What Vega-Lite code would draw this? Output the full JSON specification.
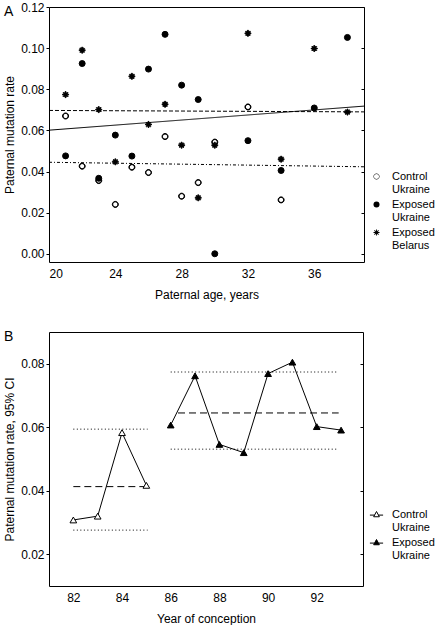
{
  "$schema": "https://vega.github.io/schema/vega-lite/v6.json",
  "background": "white",
  "padding": {"left": 3, "top": 0, "right": 0, "bottom": 0},
  "spacing": 28,
  "resolve": {"scale": {"strokeDash": "independent", "fill": "independent", "shape": "independent"}, "legend": {"fill": "independent", "shape": "independent", "strokeDash": "independent"}},
  "config": {
    "view": {"stroke": "black", "strokeWidth": 1},
    "font": "Liberation Sans",
    "axis": {"labelFont": "Liberation Sans", "labelFontSize": 12, "labelColor": "black", "titleFont": "Liberation Sans", "titleFontSize": 12, "titleFontWeight": "normal", "titleColor": "black", "domain": false, "grid": false, "tickColor": "black", "tickWidth": 1, "labelOverlap": false},
    "legend": {"labelFont": "Liberation Sans", "labelFontSize": 11, "labelColor": "black", "padding": 0, "symbolStrokeColor": "black", "symbolStrokeWidth": 1, "labelLimit": 200, "rowPadding": 3},
    "title": {"font": "Liberation Sans", "fontSize": 14, "fontWeight": "normal", "color": "black"}
  },
  "datasets": {
    "pointsA": [
      {"group": "Control Ukraine", "age": 21, "rate": 0.067},
      {"group": "Control Ukraine", "age": 22, "rate": 0.0426},
      {"group": "Control Ukraine", "age": 23, "rate": 0.0356},
      {"group": "Control Ukraine", "age": 24, "rate": 0.024},
      {"group": "Control Ukraine", "age": 25, "rate": 0.0421},
      {"group": "Control Ukraine", "age": 26, "rate": 0.0395},
      {"group": "Control Ukraine", "age": 27, "rate": 0.057},
      {"group": "Control Ukraine", "age": 28, "rate": 0.028},
      {"group": "Control Ukraine", "age": 29, "rate": 0.0346},
      {"group": "Control Ukraine", "age": 30, "rate": 0.0543},
      {"group": "Control Ukraine", "age": 32, "rate": 0.0714},
      {"group": "Control Ukraine", "age": 34, "rate": 0.0262},
      {"group": "Exposed Ukraine", "age": 21, "rate": 0.0476},
      {"group": "Exposed Ukraine", "age": 22, "rate": 0.0925},
      {"group": "Exposed Ukraine", "age": 23, "rate": 0.0367},
      {"group": "Exposed Ukraine", "age": 24, "rate": 0.0577},
      {"group": "Exposed Ukraine", "age": 25, "rate": 0.0475},
      {"group": "Exposed Ukraine", "age": 26, "rate": 0.0898},
      {"group": "Exposed Ukraine", "age": 27, "rate": 0.1067},
      {"group": "Exposed Ukraine", "age": 28, "rate": 0.082},
      {"group": "Exposed Ukraine", "age": 29, "rate": 0.075},
      {"group": "Exposed Ukraine", "age": 30, "rate": 0.0},
      {"group": "Exposed Ukraine", "age": 32, "rate": 0.055},
      {"group": "Exposed Ukraine", "age": 34, "rate": 0.0405},
      {"group": "Exposed Ukraine", "age": 36, "rate": 0.0709},
      {"group": "Exposed Ukraine", "age": 38, "rate": 0.1052},
      {"group": "Exposed Belarus", "age": 21, "rate": 0.0774},
      {"group": "Exposed Belarus", "age": 22, "rate": 0.099},
      {"group": "Exposed Belarus", "age": 23, "rate": 0.0701},
      {"group": "Exposed Belarus", "age": 24, "rate": 0.0447},
      {"group": "Exposed Belarus", "age": 25, "rate": 0.0863},
      {"group": "Exposed Belarus", "age": 26, "rate": 0.0629},
      {"group": "Exposed Belarus", "age": 27, "rate": 0.0727},
      {"group": "Exposed Belarus", "age": 28, "rate": 0.0528},
      {"group": "Exposed Belarus", "age": 29, "rate": 0.0272},
      {"group": "Exposed Belarus", "age": 30, "rate": 0.0528},
      {"group": "Exposed Belarus", "age": 32, "rate": 0.1072},
      {"group": "Exposed Belarus", "age": 34, "rate": 0.046},
      {"group": "Exposed Belarus", "age": 36, "rate": 0.0998},
      {"group": "Exposed Belarus", "age": 38, "rate": 0.0689}
    ],
    "fitsA": [
      {"group": "Control Ukraine", "age": 20, "rate": 0.0445},
      {"group": "Control Ukraine", "age": 39, "rate": 0.0423},
      {"group": "Exposed Ukraine", "age": 20, "rate": 0.0601},
      {"group": "Exposed Ukraine", "age": 39, "rate": 0.0718},
      {"group": "Exposed Belarus", "age": 20, "rate": 0.0697},
      {"group": "Exposed Belarus", "age": 39, "rate": 0.069}
    ],
    "pointsB": [
      {"group": "Control Ukraine", "year": 82, "rate": 0.0308},
      {"group": "Control Ukraine", "year": 83, "rate": 0.032},
      {"group": "Control Ukraine", "year": 84, "rate": 0.0583},
      {"group": "Control Ukraine", "year": 85, "rate": 0.0417},
      {"group": "Exposed Ukraine", "year": 86, "rate": 0.0607},
      {"group": "Exposed Ukraine", "year": 87, "rate": 0.0762},
      {"group": "Exposed Ukraine", "year": 88, "rate": 0.0546},
      {"group": "Exposed Ukraine", "year": 89, "rate": 0.052},
      {"group": "Exposed Ukraine", "year": 90, "rate": 0.0769},
      {"group": "Exposed Ukraine", "year": 91, "rate": 0.0805},
      {"group": "Exposed Ukraine", "year": 92, "rate": 0.0602},
      {"group": "Exposed Ukraine", "year": 93, "rate": 0.0591}
    ],
    "ciB": [
      {"group": "Control Ukraine", "stat": "upper 95% CI", "start": 82, "end": 85.05, "rate": 0.0594},
      {"group": "Control Ukraine", "stat": "mean", "start": 82, "end": 85, "rate": 0.0413},
      {"group": "Control Ukraine", "stat": "lower 95% CI", "start": 82, "end": 85.05, "rate": 0.0276},
      {"group": "Exposed Ukraine", "stat": "upper 95% CI", "start": 86, "end": 92.85, "rate": 0.0774},
      {"group": "Exposed Ukraine", "stat": "mean", "start": 86.3, "end": 92.9, "rate": 0.0645},
      {"group": "Exposed Ukraine", "stat": "lower 95% CI", "start": 86, "end": 92.85, "rate": 0.0531}
    ]
  },
  "vconcat": [
    {
      "width": 315,
      "height": 255,
      "title": {"text": "A", "anchor": "start", "frame": "group", "orient": "top", "offset": -18, "dx": -45},
      "layer": [
        {
          "data": {"name": "fitsA"},
          "mark": {"type": "line", "stroke": "black", "strokeWidth": 1},
          "encoding": {
            "x": {"field": "age", "type": "quantitative", "scale": {"domain": [20, 39], "nice": false, "zero": false},
                  "axis": {"values": [20, 22, 24, 26, 28, 30, 32, 34, 36, 38], "title": "Paternal age, years", "ticks": false, "labelPadding": 6, "titlePadding": 10}},
            "y": {"field": "rate", "type": "quantitative", "scale": {"domain": [-0.004, 0.12], "nice": false, "zero": false},
                  "axis": {"orient": "right", "labels": false, "title": null, "values": [0, 0.02, 0.04, 0.06, 0.08, 0.1, 0.12], "tickSize": -3}},
            "detail": {"field": "group", "type": "nominal"},
            "strokeDash": {"field": "group", "type": "nominal", "legend": null,
                           "scale": {"domain": ["Exposed Ukraine", "Control Ukraine", "Exposed Belarus"], "range": [[1, 0], [3, 2, 1, 2], [4, 2]]}}
          }
        },
        {
          "data": {"name": "pointsA"},
          "mark": {"type": "point", "filled": true, "fill": "black", "stroke": "black", "strokeWidth": 1, "size": 36, "opacity": 1},
          "encoding": {
            "x": {"field": "age", "type": "quantitative"},
            "y": {"field": "rate", "type": "quantitative",
                  "axis": {"values": [0, 0.02, 0.04, 0.06, 0.08, 0.1, 0.12], "format": ".2f", "title": "Paternal mutation rate", "tickSize": 3, "labelPadding": 2, "titlePadding": 4}},
            "shape": {"field": "group", "type": "nominal",
                      "scale": {"domain": ["Control Ukraine", "Exposed Ukraine", "Exposed Belarus"],
                                "range": ["M1,0A1,1,0,1,1,-1,0A1,1,0,1,1,1,0ZM0.85,0A0.85,0.85,0,1,0,-0.85,0A0.85,0.85,0,1,0,0.85,0Z", "circle", "M-1,-0.15H1V0.15H-1ZM-0.15,-1H0.15V1H-0.15ZM-0.594,-0.806L0.806,0.594L0.594,0.806L-0.806,-0.594ZM-0.806,0.594L0.594,-0.806L0.806,-0.594L-0.594,0.806Z"]},
                      "legend": {"title": null, "orient": "none", "legendX": 322, "legendY": 164, "labelOffset": 10, "symbolSize": 36,
                                 "symbolStrokeColor": "black", "symbolStrokeWidth": 1, "symbolFillColor": "black",
                                 "labelExpr": "split(datum.label, ' ')",
                                 "encode": {"labels": {"dy": {"value": 10}, "lineHeight": {"value": 12}}}}}
          }
        }
      ],
      "resolve": {"axis": {"y": "independent"}}
    },
    {
      "width": 314,
      "height": 254,
      "title": {"text": "B", "anchor": "start", "frame": "group", "orient": "top", "offset": -11.5, "dx": -45},
      "layer": [
        {
          "data": {"name": "ciB"},
          "mark": {"type": "rule", "stroke": "black", "strokeWidth": 1},
          "encoding": {
            "x": {"field": "start", "type": "quantitative", "scale": {"domain": [81, 93.9], "nice": false, "zero": false},
                  "axis": {"values": [82, 83, 84, 85, 86, 87, 88, 89, 90, 91, 92, 93], "title": "Year of conception", "ticks": false, "labelPadding": 6, "titlePadding": 10}},
            "x2": {"field": "end"},
            "y": {"field": "rate", "type": "quantitative", "scale": {"domain": [0.01, 0.09], "nice": false, "zero": false},
                  "axis": {"orient": "right", "labels": false, "title": null, "values": [0.02, 0.04, 0.06, 0.08], "tickSize": -3}},
            "strokeDash": {"field": "stat", "type": "nominal", "legend": null,
                           "scale": {"domain": ["mean", "upper 95% CI", "lower 95% CI"], "range": [[7, 4], [1, 2.5], [1, 2.5]]}}
          }
        },
        {
          "data": {"name": "pointsB"},
          "mark": {"type": "line", "stroke": "black", "strokeWidth": 1},
          "encoding": {
            "x": {"field": "year", "type": "quantitative"},
            "y": {"field": "rate", "type": "quantitative",
                  "axis": {"values": [0.02, 0.04, 0.06, 0.08], "format": ".2f", "title": "Paternal mutation rate, 95% CI", "tickSize": 3, "labelPadding": 2, "titlePadding": 4}},
            "detail": {"field": "group", "type": "nominal"}
          }
        },
        {
          "data": {"name": "pointsB"},
          "mark": {"type": "point", "shape": "triangle-up", "stroke": "black", "strokeWidth": 1, "size": 45, "opacity": 1},
          "encoding": {
            "x": {"field": "year", "type": "quantitative"},
            "y": {"field": "rate", "type": "quantitative", "axis": null},
            "fill": {"field": "group", "type": "nominal",
                     "scale": {"domain": ["Control Ukraine", "Exposed Ukraine"], "range": ["white", "black"]},
                     "legend": {"title": null, "orient": "none", "legendX": 322, "legendY": 177, "labelOffset": 10, "symbolSize": 36,
                                "symbolType": "M-2.2,0.2H-0.65M0.65,0.2H2.2M0,-1L0.95,0.75L-0.95,0.75Z",
                                "labelExpr": "split(datum.label, ' ')",
                                "encode": {"labels": {"dy": {"value": 10}, "lineHeight": {"value": 12}}}}}
          }
        }
      ],
      "resolve": {"axis": {"y": "independent"}}
    }
  ]
}
